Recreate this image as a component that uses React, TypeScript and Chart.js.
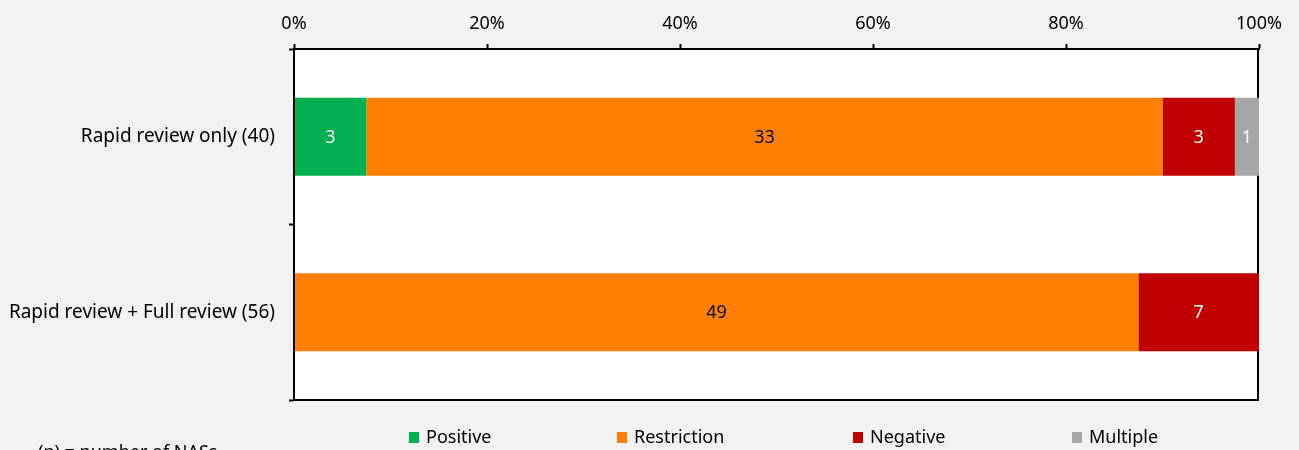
import React, { useEffect, useRef } from "react";
import { Chart, registerables } from "chart.js";

Chart.register(...registerables);

const categories = ["Rapid review only (40)", "Rapid review + Full review (56)"];
const seriesNames = ["Positive", "Restriction", "Negative", "Multiple"];
const positive = [3, 0];
const restriction = [33, 49];
const negative = [3, 7];
const multiple = [1, 0];
const noteText = "(n) = number of NASs";

const seriesCounts = [positive, restriction, negative, multiple];
const colors = ["#00B050", "#FF8000", "#C00000", "#A6A6A6"];
const labelColors = ["#FFFFFF", "#000000", "#FFFFFF", "#FFFFFF"];
const legendX = [409, 617, 853, 1072];
const FONT = "'Noto Sans', 'Open Sans', sans-serif";

export default function App() {
  const ref = useRef<HTMLCanvasElement | null>(null);

  useEffect(() => {
    document.body.style.margin = "0";
    const canvas = ref.current;
    if (!canvas) return;

    const totals = categories.map((_, i) =>
      seriesCounts.reduce((s, arr) => s + arr[i], 0)
    );

    const datasets = seriesNames.map((name, si) => ({
      label: name,
      data: seriesCounts[si].map((c, i) => (c / totals[i]) * 100),
      counts: seriesCounts[si],
      backgroundColor: colors[si],
      borderWidth: 0,
      barPercentage: 0.444,
      categoryPercentage: 1,
    }));

    const bgPlugin = {
      id: "bgPlugin",
      beforeDraw(chart: any) {
        const { ctx, chartArea } = chart;
        ctx.save();
        ctx.fillStyle = "#F2F2F2";
        ctx.fillRect(0, 0, chart.width, chart.height);
        ctx.fillStyle = "#FFFFFF";
        ctx.fillRect(
          chartArea.left,
          chartArea.top,
          chartArea.right - chartArea.left,
          chartArea.bottom - chartArea.top
        );
        ctx.restore();
      },
      beforeDatasetsDraw(chart: any) {
        const { ctx, chartArea } = chart;
        ctx.save();
        ctx.strokeStyle = "#000000";
        ctx.lineWidth = 2;
        ctx.beginPath();
        ctx.moveTo(chartArea.right - 1, chartArea.top);
        ctx.lineTo(chartArea.right - 1, chartArea.bottom);
        ctx.moveTo(chartArea.left, chartArea.bottom);
        ctx.lineTo(chartArea.right, chartArea.bottom);
        ctx.stroke();
        ctx.restore();
      },
    };

    const labelPlugin = {
      id: "labelPlugin",
      afterDatasetsDraw(chart: any) {
        const { ctx, chartArea } = chart;
        ctx.save();
        // left axis line stays visible above the bars
        ctx.strokeStyle = "#000000";
        ctx.lineWidth = 2;
        ctx.beginPath();
        ctx.moveTo(chartArea.left, chartArea.top);
        ctx.lineTo(chartArea.left, chartArea.bottom + 1);
        ctx.stroke();

        ctx.font = `18px ${FONT}`;
        ctx.textAlign = "center";
        ctx.textBaseline = "middle";
        chart.data.datasets.forEach((ds: any, di: number) => {
          const meta = chart.getDatasetMeta(di);
          meta.data.forEach((el: any, i: number) => {
            const c = ds.counts[i];
            if (!c) return;
            const p = el.getCenterPoint();
            ctx.fillStyle = labelColors[di];
            ctx.fillText(String(c), p.x, p.y + 1);
          });
        });
        ctx.restore();
      },
      afterDraw(chart: any) {
        const { ctx } = chart;
        ctx.save();
        ctx.font = `18px ${FONT}`;
        ctx.textAlign = "left";
        ctx.textBaseline = "alphabetic";
        seriesNames.forEach((name, si) => {
          const x = legendX[si];
          ctx.fillStyle = colors[si];
          ctx.fillRect(x, 432, 10, 11);
          ctx.fillStyle = "#000000";
          ctx.fillText(name, x + 17, 443);
        });
        ctx.fillText(noteText, 38, 458);
        ctx.restore();
      },
    };

    const chart = new Chart(canvas, {
      type: "bar",
      data: { labels: categories, datasets: datasets as any },
      options: {
        indexAxis: "y",
        responsive: false,
        maintainAspectRatio: false,
        animation: false,
        layout: { padding: { left: 0, right: 40, top: 0, bottom: 50 } },
        plugins: {
          legend: { display: false },
          tooltip: { enabled: false },
        },
        scales: {
          x: {
            stacked: true,
            position: "top",
            min: 0,
            max: 100,
            ticks: {
              stepSize: 20,
              callback: (v: any) => v + "%",
              color: "#000000",
              font: { family: FONT, size: 18 },
              padding: 9,
              maxRotation: 0,
              autoSkip: false,
            },
            grid: {
              drawOnChartArea: false,
              tickLength: 5,
              tickWidth: 2,
              tickColor: "#000000",
            },
            border: { display: true, color: "#000000", width: 2 },
            afterFit: (s: any) => {
              s.height = 49;
            },
          },
          y: {
            stacked: true,
            ticks: {
              color: "#000000",
              font: { family: FONT, size: 19 },
              padding: 14,
            },
            grid: {
              offset: true,
              drawOnChartArea: false,
              tickLength: 5,
              tickWidth: 2,
              tickColor: "#000000",
            },
            border: { display: true, color: "#000000", width: 2 },
            afterFit: (s: any) => {
              s.width = 294;
            },
          },
        },
      } as any,
      plugins: [bgPlugin, labelPlugin],
    });

    return () => chart.destroy();
  }, []);

  return (
    <div style={{ width: 1299, height: 450, background: "#F2F2F2" }}>
      <canvas
        ref={ref}
        width={1299}
        height={450}
        style={{ display: "block", width: 1299, height: 450 }}
      />
    </div>
  );
}
